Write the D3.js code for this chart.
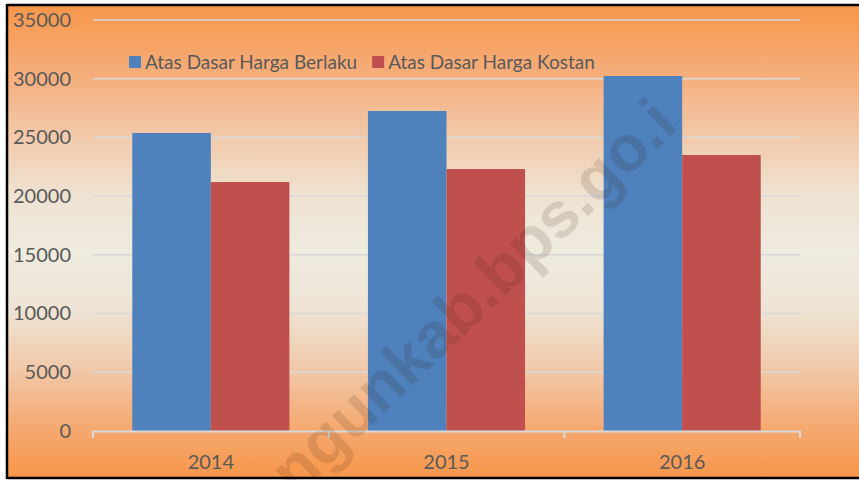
<!DOCTYPE html>
<html>
<head>
<meta charset="utf-8">
<script src="https://cdn.jsdelivr.net/npm/d3@7"></script>
<style>
  html, body { margin: 0; padding: 0; background: #ffffff; }
  svg { display: block; }
</style>
</head>
<body>
<script>
// PDRB per tahun (juta rupiah)
const years = ["2014", "2015", "2016"];
const seriesNames = ["Atas Dasar Harga Berlaku", "Atas Dasar Harga Kostan"];
const berlaku = [25380, 27250, 30230];
const konstan = [21200, 22310, 23500];
const yTicks = [0, 5000, 10000, 15000, 20000, 25000, 30000, 35000];
const seriesColors = ["#4f81bd", "#c0504d"];

const W = 859, H = 480;
const plot = { left: 93, right: 800, top: 20, bottom: 431 };
const labelFont = "Lato, 'Open Sans', sans-serif";

const svg = d3.select("body").append("svg")
  .attr("width", W).attr("height", H);

// Background: orange at top and bottom fading to cream in the middle
const defs = svg.append("defs");
const grad = defs.append("linearGradient")
  .attr("id", "bg").attr("x1", 0).attr("y1", 0).attr("x2", 0).attr("y2", 1);
[
  [0.00, "#f7964a"], [0.15, "#f5ae7c"], [0.28, "#f2caab"], [0.40, "#eee2d1"],
  [0.52, "#eeebdf"], [0.64, "#eee4d5"], [0.76, "#f1cbad"], [0.89, "#f5aa72"],
  [1.00, "#f7964a"]
].forEach(([o, c]) => grad.append("stop").attr("offset", o).attr("stop-color", c));

svg.append("rect")
  .attr("x", 7).attr("y", 5).attr("width", W).attr("height", 473)
  .attr("fill", "url(#bg)");

const x0 = d3.scaleBand().domain(years).range([plot.left, plot.right]).padding(0);
const x1 = d3.scaleBand().domain(seriesNames)
  .range([x0.bandwidth() / 6, x0.bandwidth() * 5 / 6]).padding(0);
const y = d3.scaleLinear().domain([0, 35000]).range([plot.bottom, plot.top]);

// Horizontal gridlines
svg.append("g").selectAll("line")
  .data(yTicks.filter(t => t > 0))
  .join("line")
  .attr("x1", plot.left).attr("x2", plot.right)
  .attr("y1", d => y(d)).attr("y2", d => y(d))
  .attr("stroke", "#d9d9d9").attr("stroke-width", 1.5);

// Y axis labels
const yAxis = d3.axisLeft(y).tickValues(yTicks).tickSize(0).tickPadding(0)
  .tickFormat(d3.format("d"));
const gy = svg.append("g").attr("transform", `translate(${plot.left - 22},0)`).call(yAxis);
gy.select(".domain").remove();
gy.selectAll("text")
  .attr("fill", "#595959").attr("font-size", 20).style("font-family", labelFont);

// Bars
const rows = years.map((yr, i) => ({ year: yr, values: [berlaku[i], konstan[i]] }));
svg.append("g").selectAll("g")
  .data(rows)
  .join("g")
  .attr("transform", d => `translate(${x0(d.year)},0)`)
  .selectAll("rect")
  .data(d => d.values.map((v, j) => ({ name: seriesNames[j], value: v, color: seriesColors[j] })))
  .join("rect")
  .attr("x", d => x1(d.name))
  .attr("width", x1.bandwidth())
  .attr("y", d => y(d.value))
  .attr("height", d => y(0) - y(d.value))
  .attr("fill", d => d.color);

// Category axis with tick marks between groups
const xAxis = d3.axisBottom(x0).tickSize(0).tickPadding(0);
const gx = svg.append("g").attr("transform", `translate(0,${plot.bottom})`).call(xAxis);
gx.select(".domain").attr("stroke", "#d9d9d9").attr("stroke-width", 2);
gx.selectAll("text")
  .attr("fill", "#595959").attr("font-size", 20).style("font-family", labelFont)
  .attr("dy", 0).attr("y", 38);
const boundaries = [plot.left, ...years.map(yr => x0(yr) + x0.bandwidth())];
svg.append("g").selectAll("line")
  .data(boundaries)
  .join("line")
  .attr("x1", d => d).attr("x2", d => d)
  .attr("y1", plot.bottom).attr("y2", plot.bottom + 7)
  .attr("stroke", "#d9d9d9").attr("stroke-width", 2);

// Legend
const legend = svg.append("g").attr("transform", "translate(129,62)");
let lx = 0;
seriesNames.forEach((name, i) => {
  const g = legend.append("g").attr("transform", `translate(${lx},0)`);
  g.append("rect").attr("x", 0).attr("y", -6).attr("width", 12).attr("height", 12)
    .attr("fill", seriesColors[i]);
  const t = g.append("text").attr("x", 16).attr("y", 0).attr("dy", "0.35em")
    .attr("fill", "#595959").attr("font-size", 19).style("font-family", labelFont)
    .text(name);
  lx += 16 + t.node().getComputedTextLength() + 15;
});

// Diagonal watermark over the chart
svg.append("text")
  .attr("transform", "translate(680,127) rotate(-44)")
  .attr("text-anchor", "end")
  .style("font-family", "'Liberation Sans', Arial, sans-serif")
  .attr("font-weight", "bold")
  .attr("font-size", 64.5)
  .attr("fill", "rgba(50,25,0,0.13)")
  .text("ngunkab.bps.go.i");

// Frame
svg.append("line").attr("x1", 7).attr("x2", W).attr("y1", 5).attr("y2", 5)
  .attr("stroke", "#000").attr("stroke-width", 2.5);
svg.append("line").attr("x1", 7).attr("x2", W).attr("y1", 478).attr("y2", 478)
  .attr("stroke", "#000").attr("stroke-width", 2.5);
svg.append("line").attr("x1", 7).attr("x2", 7).attr("y1", 4).attr("y2", 479)
  .attr("stroke", "#000").attr("stroke-width", 2.5);
</script>
</body>
</html>
